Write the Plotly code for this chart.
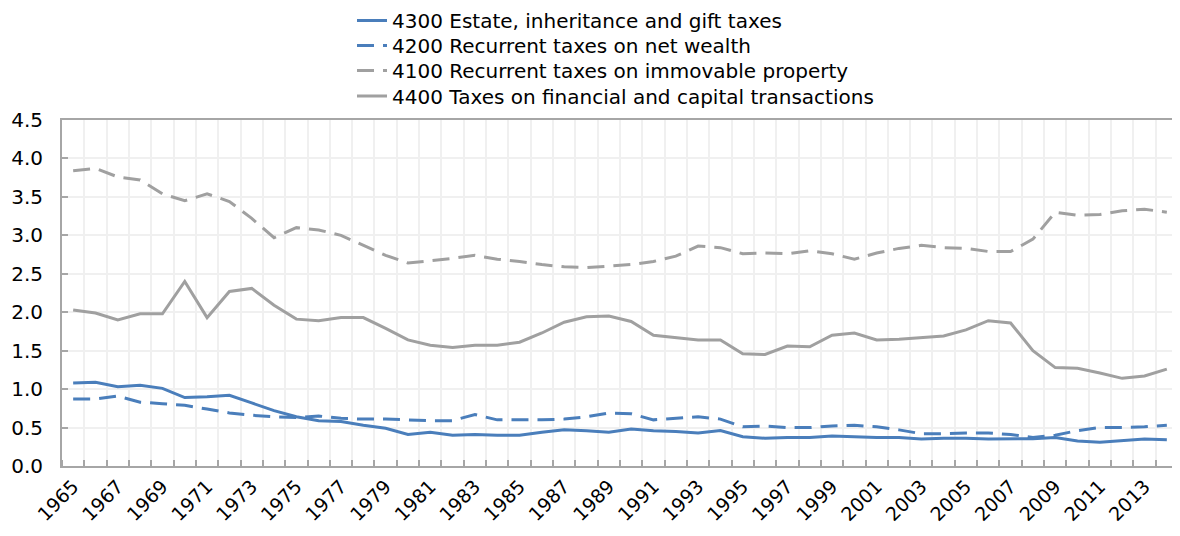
import plotly.graph_objects as go

years = list(range(1965, 2015))

tax_4300 = [1.08, 1.09, 1.03, 1.05, 1.01, 0.89, 0.90, 0.92, 0.82, 0.72,
            0.64, 0.59, 0.58, 0.53, 0.49, 0.41, 0.44, 0.40, 0.41, 0.40,
            0.40, 0.44, 0.47, 0.46, 0.44, 0.48, 0.46, 0.45, 0.43, 0.46,
            0.38, 0.36, 0.37, 0.37, 0.39, 0.38, 0.37, 0.37, 0.35, 0.36,
            0.36, 0.35, 0.355, 0.355, 0.37, 0.325, 0.31, 0.33, 0.35, 0.34]

tax_4200 = [0.87, 0.87, 0.91, 0.83, 0.81, 0.79, 0.74, 0.69, 0.66, 0.64,
            0.63, 0.65, 0.62, 0.61, 0.61, 0.60, 0.59, 0.59, 0.67, 0.60,
            0.60, 0.60, 0.61, 0.64, 0.69, 0.68, 0.60, 0.62, 0.64, 0.61,
            0.51, 0.52, 0.50, 0.50, 0.52, 0.53, 0.51, 0.47, 0.42, 0.42,
            0.43, 0.43, 0.41, 0.37, 0.40, 0.46, 0.50, 0.50, 0.51, 0.53]

tax_4100 = [3.84, 3.87, 3.76, 3.72, 3.54, 3.45, 3.54, 3.44, 3.22, 2.97,
            3.10, 3.07, 3.00, 2.87, 2.74, 2.64, 2.67, 2.70, 2.74, 2.69,
            2.66, 2.62, 2.59, 2.58, 2.60, 2.62, 2.66, 2.73, 2.86, 2.84,
            2.76, 2.77, 2.76, 2.80, 2.76, 2.69, 2.77, 2.83, 2.87, 2.84,
            2.83, 2.79, 2.79, 2.95, 3.30, 3.26, 3.27, 3.32, 3.34, 3.30]

tax_4400 = [2.03, 1.99, 1.90, 1.98, 1.98, 2.40, 1.93, 2.27, 2.31, 2.09,
            1.91, 1.89, 1.93, 1.93, 1.79, 1.64, 1.57, 1.54, 1.57, 1.57,
            1.61, 1.73, 1.87, 1.94, 1.95, 1.88, 1.70, 1.67, 1.64, 1.64,
            1.46, 1.45, 1.56, 1.55, 1.70, 1.73, 1.64, 1.65, 1.67, 1.69,
            1.77, 1.89, 1.86, 1.50, 1.28, 1.27, 1.21, 1.14, 1.17, 1.26]

label_years = list(range(1965, 2015, 2))
y_ticks = [0.0, 0.5, 1.0, 1.5, 2.0, 2.5, 3.0, 3.5, 4.0, 4.5]

BLUE = "#4A7EBB"
GRAY = "#A0A0A0"
FONT = "DejaVu Sans, Liberation Sans, Arial, sans-serif"
OFF = 8                    # browser default body margin
W, H = 1180 - OFF, 536 - OFF

series = [
    ("4300 Estate, inheritance and gift taxes", tax_4300, BLUE, "solid", "legend", 20.5),
    ("4200 Recurrent taxes on net wealth", tax_4200, BLUE, "17px,9px", "legend2", 45.5),
    ("4100 Recurrent taxes on immovable property", tax_4100, GRAY, "17px,9px", "legend3", 70.5),
    ("4400 Taxes on financial and capital transactions", tax_4400, GRAY, "solid", "legend4", 96.0),
]

fig = go.Figure()
legend_layout = {}
for name, vals, color, dash, leg, ypix in series:
    fig.add_trace(go.Scatter(x=years, y=vals, mode="lines", name=name,
                             legend=leg,
                             line=dict(color=color, width=3, dash=dash)))
    legend_layout[leg] = dict(
        xref="container", yref="container",
        x=(352 - OFF) / W, y=1 - (ypix - OFF) / H, xanchor="left", yanchor="middle",
        bgcolor="rgba(0,0,0,0)", font=dict(size=20, family=FONT, color="#000"),
        borderwidth=0,
    )

fig.update_layout(
    width=W, height=H,
    margin=dict(l=62 - OFF, r=2, t=120 - OFF, b=70, autoexpand=False),
    paper_bgcolor="white", plot_bgcolor="white",
    font=dict(family=FONT, size=20, color="#000000"),
    showlegend=True,
    hovermode=False,
    **legend_layout,
)

fig.update_xaxes(
    range=[1964.5, 2014.5],
    tickmode="array", tickvals=label_years, ticktext=[str(y) for y in label_years],
    tickangle=-45, ticks="", showgrid=False,
    showline=True, linecolor="#A6A6A6", linewidth=2, mirror=True,
    tickfont=dict(size=19),
    zeroline=False,
    minor=dict(tick0=1964.5, dtick=1, showgrid=True, gridcolor="#F0F0F0",
               gridwidth=1.5, ticks="inside", ticklen=6, tickcolor="#A6A6A6",
               tickwidth=1.5),
)

fig.update_yaxes(
    range=[0, 4.5],
    tickmode="array", tickvals=y_ticks, ticktext=[f"{v:.1f}" for v in y_ticks],
    showgrid=True, gridcolor="#F0F0F0", gridwidth=1.5,
    showline=True, linecolor="#A6A6A6", linewidth=2,
    ticks="inside", ticklen=6, tickcolor="#A6A6A6", tickwidth=1.5,
    ticklabelstandoff=13,
    zeroline=False,
    tickfont=dict(size=20),
)

fig.write_html("out.html")
